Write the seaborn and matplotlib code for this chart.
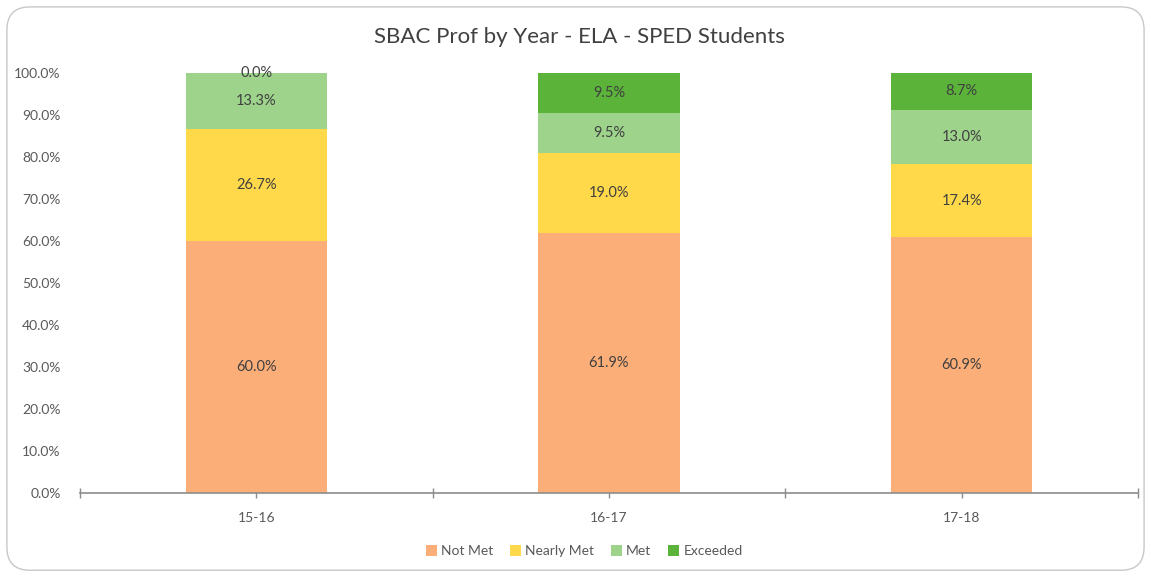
import numpy as np
import pandas as pd
import seaborn as sns
import matplotlib.pyplot as plt
from matplotlib.patches import FancyBboxPatch

years = ['15-16', '16-17', '17-18']
not_met = [60.0, 61.9, 60.9]
nearly_met = [26.7, 19.0, 17.4]
met = [13.3, 9.5, 13.0]
exceeded = [0.0, 9.5, 8.7]

series = ['Not Met', 'Nearly Met', 'Met', 'Exceeded']
colors = ['#FBAE78', '#FFD94A', '#9DD38A', '#5BB33A']

sns.set_style('white')
plt.rcParams['font.family'] = ['Lato', 'DejaVu Sans']

fig = plt.figure(figsize=(11.51, 5.76), dpi=100)
ax = fig.add_axes([0.0695, 0.1441, 0.9192, 0.7292])

# rounded chart frame
fig.patches.append(FancyBboxPatch((0.006, 0.01), 0.988, 0.978, boxstyle='round,pad=0,rounding_size=0.02',
                                  transform=fig.transFigure, fill=False, edgecolor='#c8c8c8', lw=1.0,
                                  mutation_aspect=2.0))

bottom = np.zeros(3)
for name, vals, col in zip(series, [not_met, nearly_met, met, exceeded], colors):
    sns.barplot(x=years, y=vals, bottom=bottom, color=col, width=0.4, ax=ax, label=name,
                saturation=1, linewidth=0)
    cont = ax.containers[-1]
    ax.bar_label(cont, labels=[f'{v:.1f}%' for v in vals], label_type='center',
                 fontsize=10.5, color='#404040')
    bottom = bottom + np.array(vals)

ax.set_xlim(-0.5, 2.5)
ax.set_ylim(0, 100)
ax.set_yticks(np.arange(0, 101, 10))
ax.set_yticklabels([f'{v:.1f}%' for v in np.arange(0, 101, 10)], fontsize=10, color='#595959')
ax.tick_params(axis='y', left=False, length=0, pad=14)

ax.set_xticks([0, 1, 2])
ax.set_xticklabels(years, fontsize=10, color='#595959')
ax.set_xticks([-0.5, 0.5, 1.5, 2.5], minor=True)
ax.tick_params(axis='x', which='both', bottom=True, length=7, direction='inout', color='#8c8c8c', width=1)
ax.tick_params(axis='x', which='major', pad=10)

for s in ['top', 'right', 'left']:
    ax.spines[s].set_visible(False)
ax.spines['bottom'].set_color('#8c8c8c')
ax.spines['bottom'].set_linewidth(1.2)
ax.set_xlabel('')

fig.suptitle('SBAC Prof by Year - ELA - SPED Students', x=0.503, y=0.936, va='center',
             fontsize=16, color='#404040')

ax.legend(loc='center', bbox_to_anchor=(0.5075, 0.043), bbox_transform=fig.transFigure, ncol=4,
          frameon=False, fontsize=10, handlelength=0.8, handleheight=0.8, handletextpad=0.3,
          columnspacing=1.2, labelcolor='#595959')

fig.savefig('out.png', dpi=100)
